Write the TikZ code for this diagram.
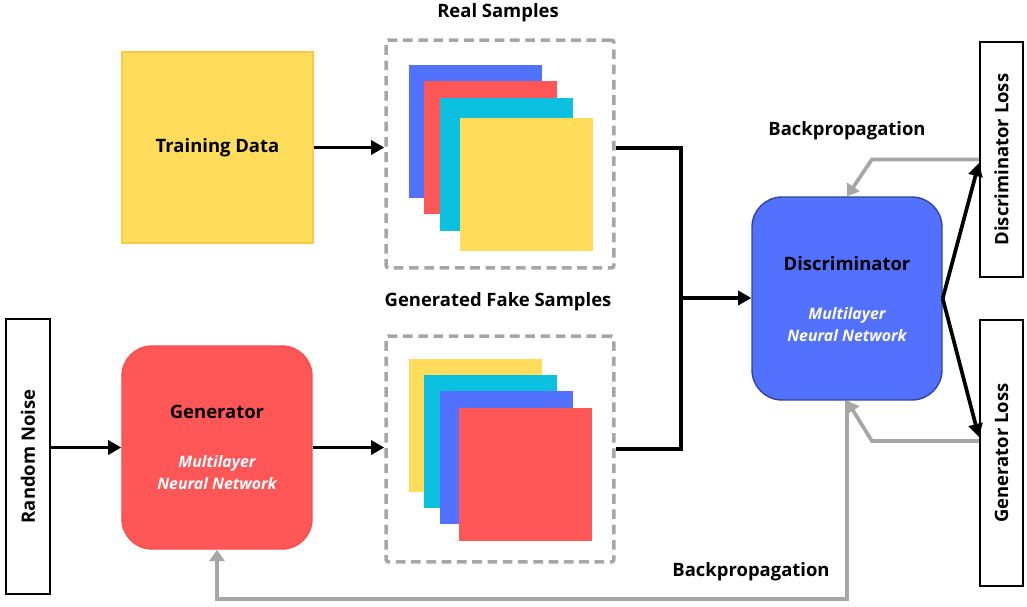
\documentclass[tikz,border=0pt]{standalone}
\usepackage{fontspec}
\setmainfont{Open Sans}
\usetikzlibrary{arrows.meta}

\definecolor{ganyellow}{HTML}{FFDC5A}
\definecolor{ganred}{HTML}{FF5757}
\definecolor{ganblue}{HTML}{5271FF}
\definecolor{gancyan}{HTML}{0CC0DF}
\definecolor{gangray}{HTML}{A6A6A6}

\tikzset{
  title/.style={font=\fontsize{10.5}{12}\selectfont\bfseries},
  nettxt/.style={align=center, text=white, font=\fontsize{9}{12.5}\selectfont\bfseries\itshape},
  netbox/.style={rounded corners=0.6cm, minimum width=3.8cm, minimum height=4.06cm, line width=0.8pt},
  sidebox/.style={draw, line width=1pt, minimum width=0.87cm, inner sep=0pt,
    font=\fontsize{10.5}{12}\selectfont\bfseries},
  samplebox/.style={draw=gangray, dash pattern=on 5.5pt off 3.2pt, line width=2pt,
    rounded corners=1.5pt, minimum width=4.56cm},
  sheet/.style={minimum size=2.66cm, inner sep=0pt},
  fwd/.style={line width=2.1pt, -{Triangle[length=7.5pt,width=8pt]}},
  back/.style={draw=gangray, line width=2.1pt, -{Triangle[length=6.5pt,width=8.5pt]}}
}

\begin{document}
\begin{tikzpicture}[x=0.02cm,y=-0.02cm]
  \useasboundingbox (0,0) rectangle (1027,606);
  %% Inputs
  \node[fill=ganyellow, draw=ganyellow!80!orange, line width=0.8pt, minimum size=3.82cm,
    title] (train) at (217.5,147.5) {Training Data};
  \node[sidebox, minimum height=5.5cm] (noise) at (28,456.5) {\rotatebox{90}{Random Noise}};
  %% Networks
  \node[netbox, fill=ganred, draw=ganred!85!red] (gen) at (217,447.5) {};
  \node[title] (gentxt) at (217,412) {Generator};
  \node[nettxt] (gennet) at (217,473) {Multilayer\\Neural Network};
  \node[netbox, fill=ganblue, draw=ganblue!60!black] (disc) at (847,298.5) {};
  \node[title] (disctxt) at (847,264) {Discriminator};
  \node[nettxt] (discnet) at (847,325) {Multilayer\\Neural Network};
  %% Losses
  \node[sidebox, minimum height=4.7cm] (dloss) at (1001.5,159.5) {\rotatebox{90}{Discriminator Loss}};
  \node[sidebox, minimum height=5.32cm] (gloss) at (1001.5,453) {\rotatebox{90}{Generator Loss}};
  %% Sample stacks
  \node[samplebox, minimum height=4.56cm] (real) at (500,154) {};
  \node[samplebox, minimum height=4.52cm] (fake) at (500,449) {};
  \node[title] (realtxt) at (498,13) {Real Samples};
  \node[title] (faketxt) at (498,302) {Generated Fake Samples};
  \foreach \c/\dx/\dy [count=\i] in {ganblue/0/0, ganred/15/16, gancyan/31/33, ganyellow/51/53}
    \node[sheet, fill=\c] (real\i) at (475.5+\dx,131.5+\dy) {};
  \foreach \c/\dx/\dy [count=\i] in {ganyellow/0/0, gancyan/15/16, ganblue/31/32.5, ganred/50/49.5}
    \node[sheet, fill=\c] (fake\i) at (475.5+\dx,425+\dy) {};
  %% Forward arrows
  \coordinate (join) at (681,298);
  \draw[fwd] (train.east) -- (train.east -| real.west);
  \draw[fwd] (noise.east |- gen.west) -- (gen.west);
  \draw[fwd] (gen.east) -- (gen.east -| fake.west);
  \draw[line width=2.1pt] ([yshift=0.12cm]real.east) -| (join) |- (fake.east);
  \draw[fwd] (join) -- (join -| disc.west);
  \draw[fwd] (disc.east) -- ([yshift=-0.07cm]dloss.west);
  \draw[fwd] (disc.east) -- ([yshift=0.32cm]gloss.west);
  %% Backpropagation
  \draw[back] (dloss.west) -- ++(-107,0) -- (disc.north);
  \draw[back] ([yshift=0.24cm]gloss.west) -- ++(-107,0) -- (disc.south);
  \draw[back] (disc.south) -- ++(0,198) -| (gen.south);
  \node[title] (backtop) at (847,131) {Backpropagation};
  \node[title] (backbot) at (751,572) {Backpropagation};
\end{tikzpicture}
\end{document}
